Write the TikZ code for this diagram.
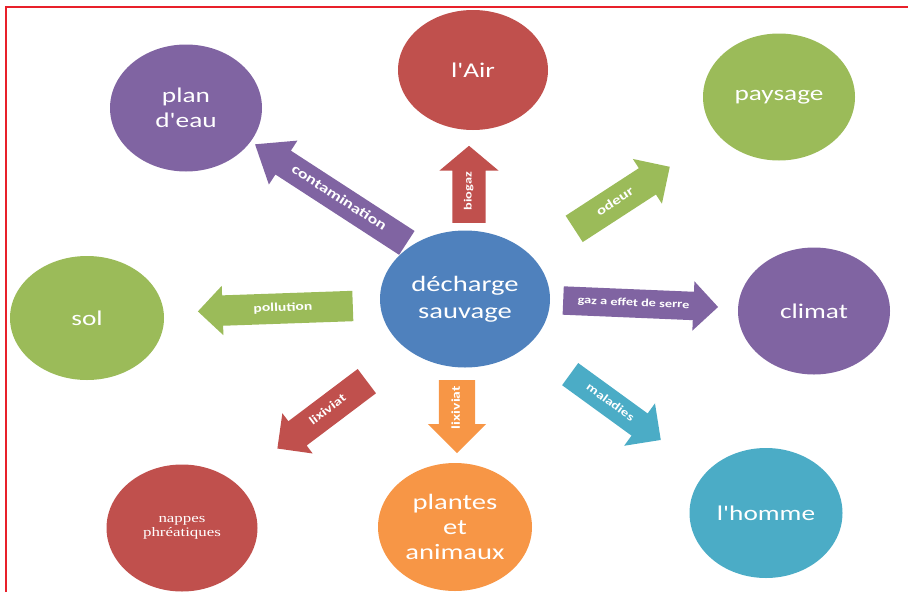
\documentclass[tikz,border=0pt]{standalone}
\usepackage{fontspec}
\setmainfont{Carlito}[FakeStretch=1.3, Ligatures=TeXOff]
\newfontfamily\nappesfont{Liberation Serif}[FakeStretch=1.3, Ligatures=TeXOff]
\usetikzlibrary{shapes.geometric,shapes.arrows}
\definecolor{cpurple}{HTML}{8064A2}
\definecolor{cred}{HTML}{C0504D}
\definecolor{cgreen}{HTML}{9BBB59}
\definecolor{cblue}{HTML}{4F81BD}
\definecolor{caqua}{HTML}{4BACC6}
\definecolor{corange}{HTML}{F79646}
\definecolor{cframe}{HTML}{E8202A}
\begin{document}
\begin{tikzpicture}[x=1pt,y=-1pt,
  bubble/.style={ellipse, inner sep=0pt, text=white, align=center,
    font=\fontsize{21}{25}\selectfont},
  blockarrow/.style={single arrow, anchor=tail, inner xsep=2pt, inner ysep=0pt, text=white,
    font=\bfseries\fontsize{11}{13}\selectfont},
  backwards/.style={shape border rotate=180}
]
\useasboundingbox (0,0) rectangle (908,592);
\draw[cframe, line width=1.3pt] (6,592) -- (6,7) -- (908,7);

% block arrows (placed by their tails)
\node[blockarrow, fill=cpurple, backwards, rotate=-33, minimum height=181, minimum width=52,
  single arrow head extend=12, single arrow tip angle=76, text height=17.3pt, text depth=10.7pt,
  font=\bfseries\fontsize{14}{16}\selectfont] (acont) at (407,243) {contamination};
\node[blockarrow, fill=cred, rotate=90, minimum height=77, minimum width=59,
  single arrow head extend=13, single arrow tip angle=100, text height=19.1pt, text depth=13.9pt] (abio) at (469,223) {biogaz};
\node[blockarrow, fill=cgreen, rotate=33, minimum height=114, minimum width=53,
  single arrow head extend=11, text height=18.5pt, text depth=12.5pt,
  font=\bfseries\fontsize{13}{15}\selectfont] (aodeur) at (574,229) {odeur};
\node[blockarrow, fill=cgreen, backwards, rotate=2, minimum height=155, minimum width=49,
  single arrow head extend=9.5, text height=17.8pt, text depth=12.2pt,
  font=\bfseries\fontsize{12}{14}\selectfont] (apoll) at (353,306) {pollution};
\node[blockarrow, fill=cpurple, rotate=-2.4, minimum height=155, minimum width=49,
  single arrow head extend=10.5, text height=16.6pt, text depth=11.4pt] (agaz) at (563,300.5) {gaz a effet de serre};
\node[blockarrow, fill=cred, backwards, rotate=37, minimum height=112, minimum width=50,
  single arrow head extend=10, text height=17.8pt, text depth=12.2pt,
  font=\bfseries\fontsize{12}{14}\selectfont] (alixa) at (367,381) {lixiviat};
\node[blockarrow, fill=corange, backwards, rotate=90, minimum height=73, minimum width=58,
  single arrow head extend=11, text height=20.8pt, text depth=15.2pt,
  font=\bfseries\fontsize{12}{14}\selectfont] (alixb) at (457,380) {lixiviat};
\node[blockarrow, fill=caqua, rotate=-36, minimum height=112, minimum width=52,
  single arrow head extend=12.5, text height=16.3pt, text depth=10.7pt,
  font=\bfseries\fontsize{11.5}{13}\selectfont] (amal) at (570,374) {maladies};

% bubbles
\node[bubble, fill=cred, minimum width=150, minimum height=120] (air) at (473,70) {l'Air};
\node[bubble, fill=cpurple, minimum width=152, minimum height=127] (eau) at (186,108) {plan\\d'eau};
\node[bubble, fill=cgreen, minimum width=152, minimum height=127] (pays) at (779,97) {paysage};
\node[bubble, fill=cgreen, minimum width=154, minimum height=124] (sol) at (87,318) {sol};
\node[bubble, fill=cblue, minimum width=170, minimum height=137,
  font=\fontsize{22}{27}\selectfont] (dech) at (465,299) {décharge\\sauvage};
\node[bubble, fill=cpurple, minimum width=152, minimum height=127] (climat) at (814,311) {climat};
\node[bubble, fill=cred, minimum width=151, minimum height=127,
  font=\nappesfont\fontsize{13}{14}\selectfont] (nappes) at (182,528) {nappes\\phréatiques};
\node[bubble, fill=corange, minimum width=154, minimum height=128,
  font=\fontsize{22}{25}\selectfont] (plantes) at (455,527) {plantes\\et\\animaux};
\node[bubble, fill=caqua, minimum width=153, minimum height=130] (homme) at (766,513) {l'homme};
\end{tikzpicture}
\end{document}
